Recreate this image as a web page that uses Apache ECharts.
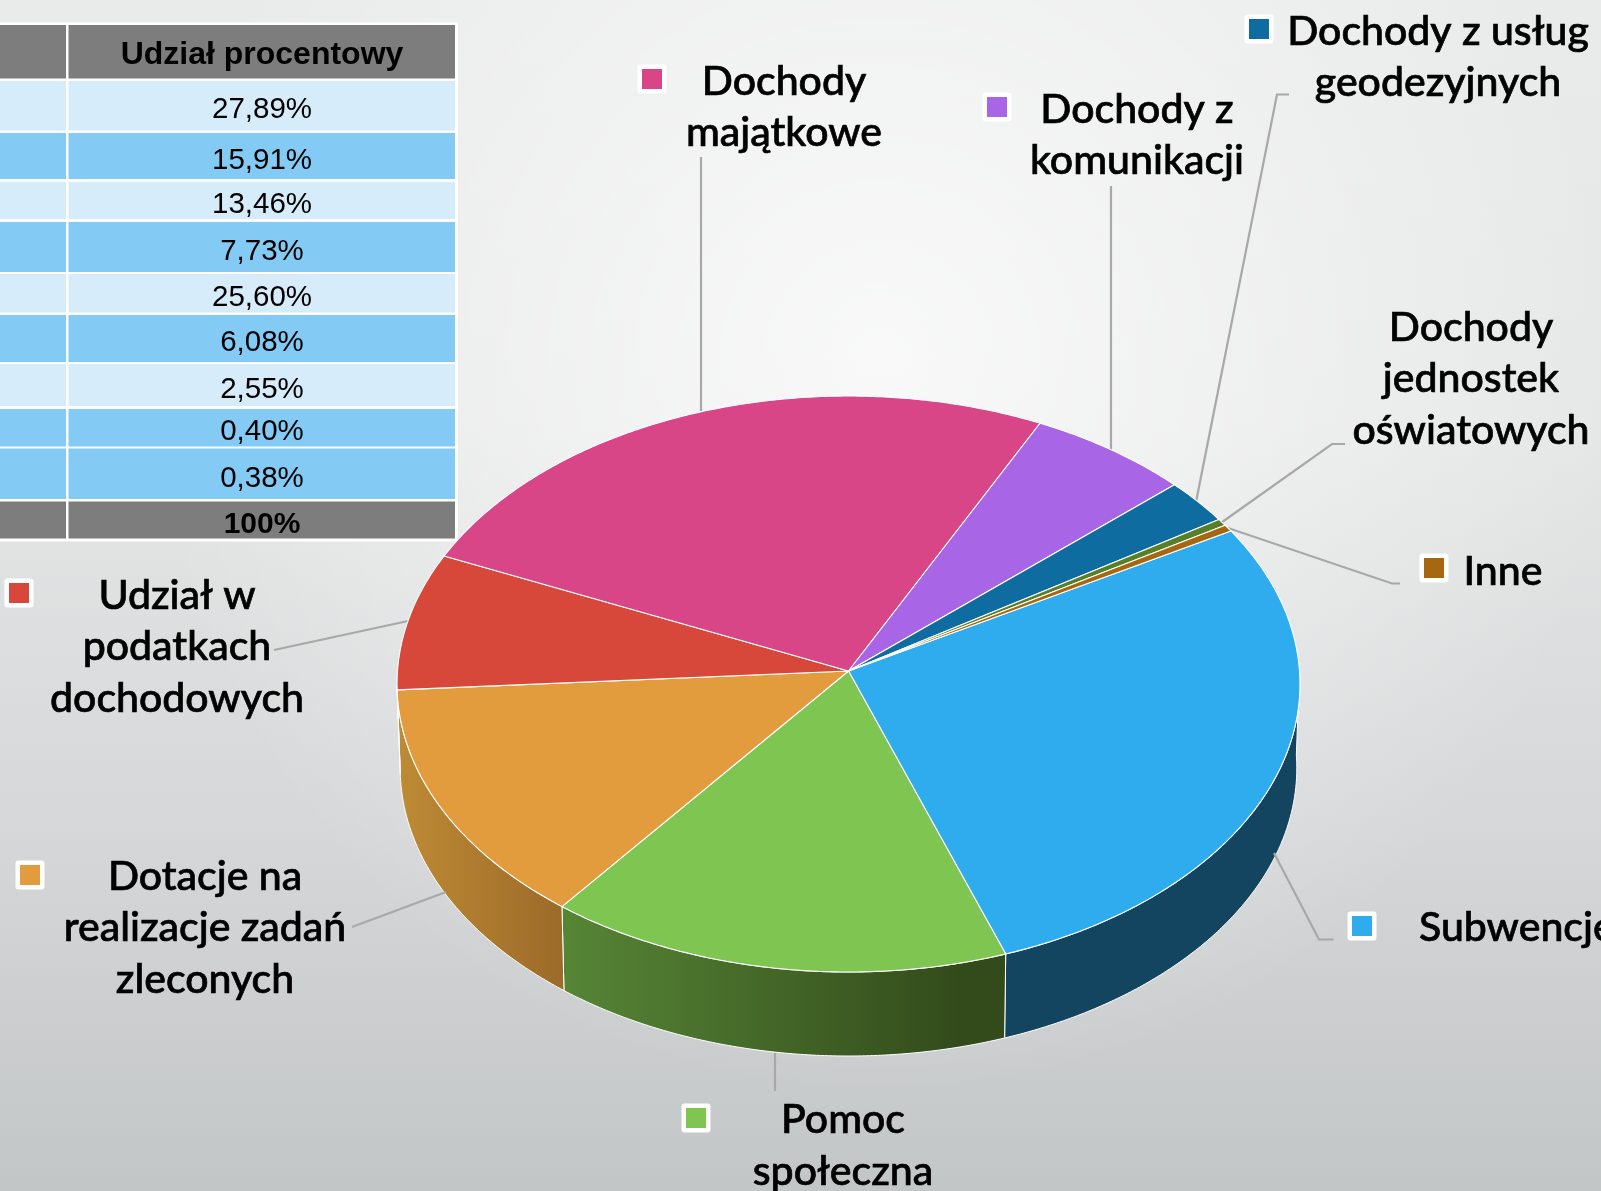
<!DOCTYPE html>
<html><head><meta charset="utf-8">
<style>html,body{margin:0;padding:0;overflow:hidden;background:#eee}#c{width:1601px;height:1191px}</style>
<script src="https://cdn.jsdelivr.net/npm/echarts@6/dist/echarts.min.js"></script>
</head><body><div id="c"></div>
<script>
const categories = ['Subwencje','Pomoc społeczna','Dotacje na realizacje zadań zleconych','Udział w podatkach dochodowych','Dochody majątkowe','Dochody z komunikacji','Dochody z usług geodezyjnych','Dochody jednostek oświatowych','Inne'];
const values = [27.89,15.91,13.46,7.73,25.60,6.08,2.55,0.40,0.38];
const tableHeader = 'Udział procentowy';
const tableTotal = '100%';
const colors = ['#2EACEE','#7FC551','#E29C3E','#D8483A','#D84687','#A865E5','#0E6CA0','#567F2A','#A5670F'];

// layout
const P = {cx:848.5, cy:671, R:451, S:287.4, k:0.0452, depth:84, shrink:0.993, start:-29.9};
const project = (deg,bottom) => {
  const a = deg*Math.PI/180, u = Math.cos(a), v = Math.sin(a), w = 1 - P.k*v;
  let x = P.R*u/w, y = P.S*v/w;
  if (bottom) { x *= P.shrink; y += P.depth; }
  return [P.cx + x, P.cy + y];
};
const total = values.reduce((s,v)=>s+v,0);
const bounds = [P.start];
values.forEach(v => bounds.push(bounds[bounds.length-1] + v/total*360));
const arc = (a0,a1,bottom) => {
  const pts = [], n = Math.max(2, Math.ceil((a1-a0)/0.5));
  for (let i=0;i<=n;i++) pts.push(project(a0+(a1-a0)*i/n,bottom));
  return pts;
};
const grad = (x,x2,stops) => ({type:'linear',global:true,x:x,y:0,x2:x2,y2:0,colorStops:stops});
const wallFill = [
  '#134460',
  grad(565,960,[{offset:0,color:'#568536'},{offset:1,color:'#334B1B'}]),
  grad(400,565,[{offset:0,color:'#BD8A35'},{offset:1,color:'#9C6A29'}]),
  '#8f3027','#8f3027','#8f3027','#8f3027','#8f3027','#8f3027'
];

function renderWall(params, api){
  const i = params.dataIndex;
  const a0 = Math.max(bounds[i], 0), a1 = Math.min(bounds[i+1], 177);
  if (a1 <= a0 || api.value(0) <= 0) return {type:'group',children:[]};
  const pts = arc(a0,a1,false).concat(arc(a0,a1,true).reverse());
  return {type:'polygon',shape:{points:pts},style:{fill:wallFill[i],stroke:'#ffffff',lineWidth:1,opacity:1}};
}
function renderTop(params, api){
  const i = params.dataIndex;
  const pts = [[P.cx,P.cy]].concat(arc(bounds[i],bounds[i+1],false));
  return {type:'polygon',shape:{points:pts},style:{fill:colors[i],stroke:'#ffffff',lineWidth:1.1,lineJoin:'round'}};
}

// table
const tableRows = [[81,130.5,109.5],[133,179,161],[182,219,205],[222,272,252],[274,312.5,298],[315,362,343],[364,406,390],[409,446.5,432],[448.5,499,479]];
const g = [];
const rect = (x,y,w,h,fill,z) => g.push({type:'rect',z:z||1,shape:{x,y,width:w,height:h},style:{fill},silent:true});
const text = (str,x,y,font,align,z,sw) => g.push({type:'text',z:z||5,x,y,style:{text:str,font,fill:'#000',align:align||'center',verticalAlign:'middle',stroke:sw?'#000':null,lineWidth:sw||0},silent:true});
// background glow
g.push({type:'rect',z:0,shape:{x:0,y:0,width:1601,height:1191},silent:true,style:{fill:{type:'radial',x:0.55,y:0.3,r:0.62,colorStops:[{offset:0,color:'rgba(255,255,255,0.75)'},{offset:1,color:'rgba(255,255,255,0)'}]}}});
rect(0,22.5,458,519,'#ffffff');
rect(0,25,66,53.5,'#7D7D7D'); rect(68.5,25,386.5,53.5,'#7D7D7D');
rect(0,501.5,66,37,'#7D7D7D'); rect(68.5,501.5,386.5,37,'#7D7D7D');
const TF = '29.5px "Liberation Sans"', TB = 'bold 32px "Liberation Sans"';
text(tableHeader,262,55,TB);
text(tableTotal,262,525,'bold 30px "Liberation Sans"');
tableRows.forEach((r,i)=>{
  const f = (i%2===0 && i!==8) ? '#D6ECFA' : '#83CBF4';
  rect(0,r[0],66,r[1]-r[0],f); rect(68.5,r[0],386.5,r[1]-r[0],f);
  text(values[i].toFixed(2).replace('.',',')+'%',262,r[2],TF);
});

// leader lines
const leaders = [
  [[1196,502],[1277,94.5],[1289,94.5]],
  [[1111,186],[1111,452]],
  [[701,157],[701,411]],
  [[1221.5,522.5],[1332,444],[1345,444]],
  [[1228,528],[1392,583.5],[1400,583.5]],
  [[1274,853],[1319,939.5],[1333.5,939.5]],
  [[775,1053],[775,1091]],
  [[446,892],[352,927]],
  [[408,621],[274,650]]
];
leaders.forEach(p=>g.push({type:'polyline',z:3,shape:{points:p},style:{stroke:'#A8A8A8',lineWidth:2.2,fill:null},silent:true}));

// category labels
const LF = '500 41px Lato, "Open Sans", sans-serif';
const labelLines = [
  [['Subwencje'],1419,[928],'left',[1362,926],0],
  [['Pomoc','społeczna'],843,[1120,1172],'center',[696,1118],1],
  [['Dotacje na','realizacje zadań','zleconych'],205,[877,928,980],'center',[30,875],2],
  [['Udział w','podatkach','dochodowych'],177,[596,647,699],'center',[19,593],3],
  [['Dochody','majątkowe'],784,[82,133],'center',[652,79],4],
  [['Dochody z','komunikacji'],1137,[110,161],'center',[997,107],5],
  [['Dochody z usług','geodezyjnych'],1438,[32,83],'center',[1259,29],6],
  [['Dochody','jednostek','oświatowych'],1471,[328,379,431],'center',null,7],
  [['Inne'],1503,[572],'center',[1434,568],8]
];
labelLines.forEach(l=>{
  l[0].forEach((s,i)=>text(s,l[1],l[2][i],LF,l[3],6,0.7));
  if (l[4]) {
    g.push({type:'rect',z:4,shape:{x:l[4][0]-14.5,y:l[4][1]-14.5,width:29,height:29,r:3},style:{fill:'#fff'},silent:true});
    g.push({type:'rect',z:5,shape:{x:l[4][0]-10,y:l[4][1]-10,width:20,height:20},style:{fill:colors[l[5]]},silent:true});
  }
});

const chart = echarts.init(document.getElementById('c'),null,{renderer:'canvas',width:1601,height:1191});
chart.setOption({
  animation:false,
  backgroundColor:{type:'linear',x:0,y:0,x2:0,y2:1,colorStops:[{offset:0,color:'#E9EAEA'},{offset:0.35,color:'#E6E7E7'},{offset:0.7,color:'#D5D7D8'},{offset:1,color:'#C3C6C6'}]},
  tooltip:{show:false},
  graphic:{elements:g},
  series:[
    {type:'custom',coordinateSystem:'none',z:2,silent:true,renderItem:renderWall,data:values.map((v,i)=>({name:categories[i],value:v}))},
    {type:'custom',coordinateSystem:'none',z:3,silent:true,renderItem:renderTop,data:values.map((v,i)=>({name:categories[i],value:v}))}
  ]
});
</script></body></html>
